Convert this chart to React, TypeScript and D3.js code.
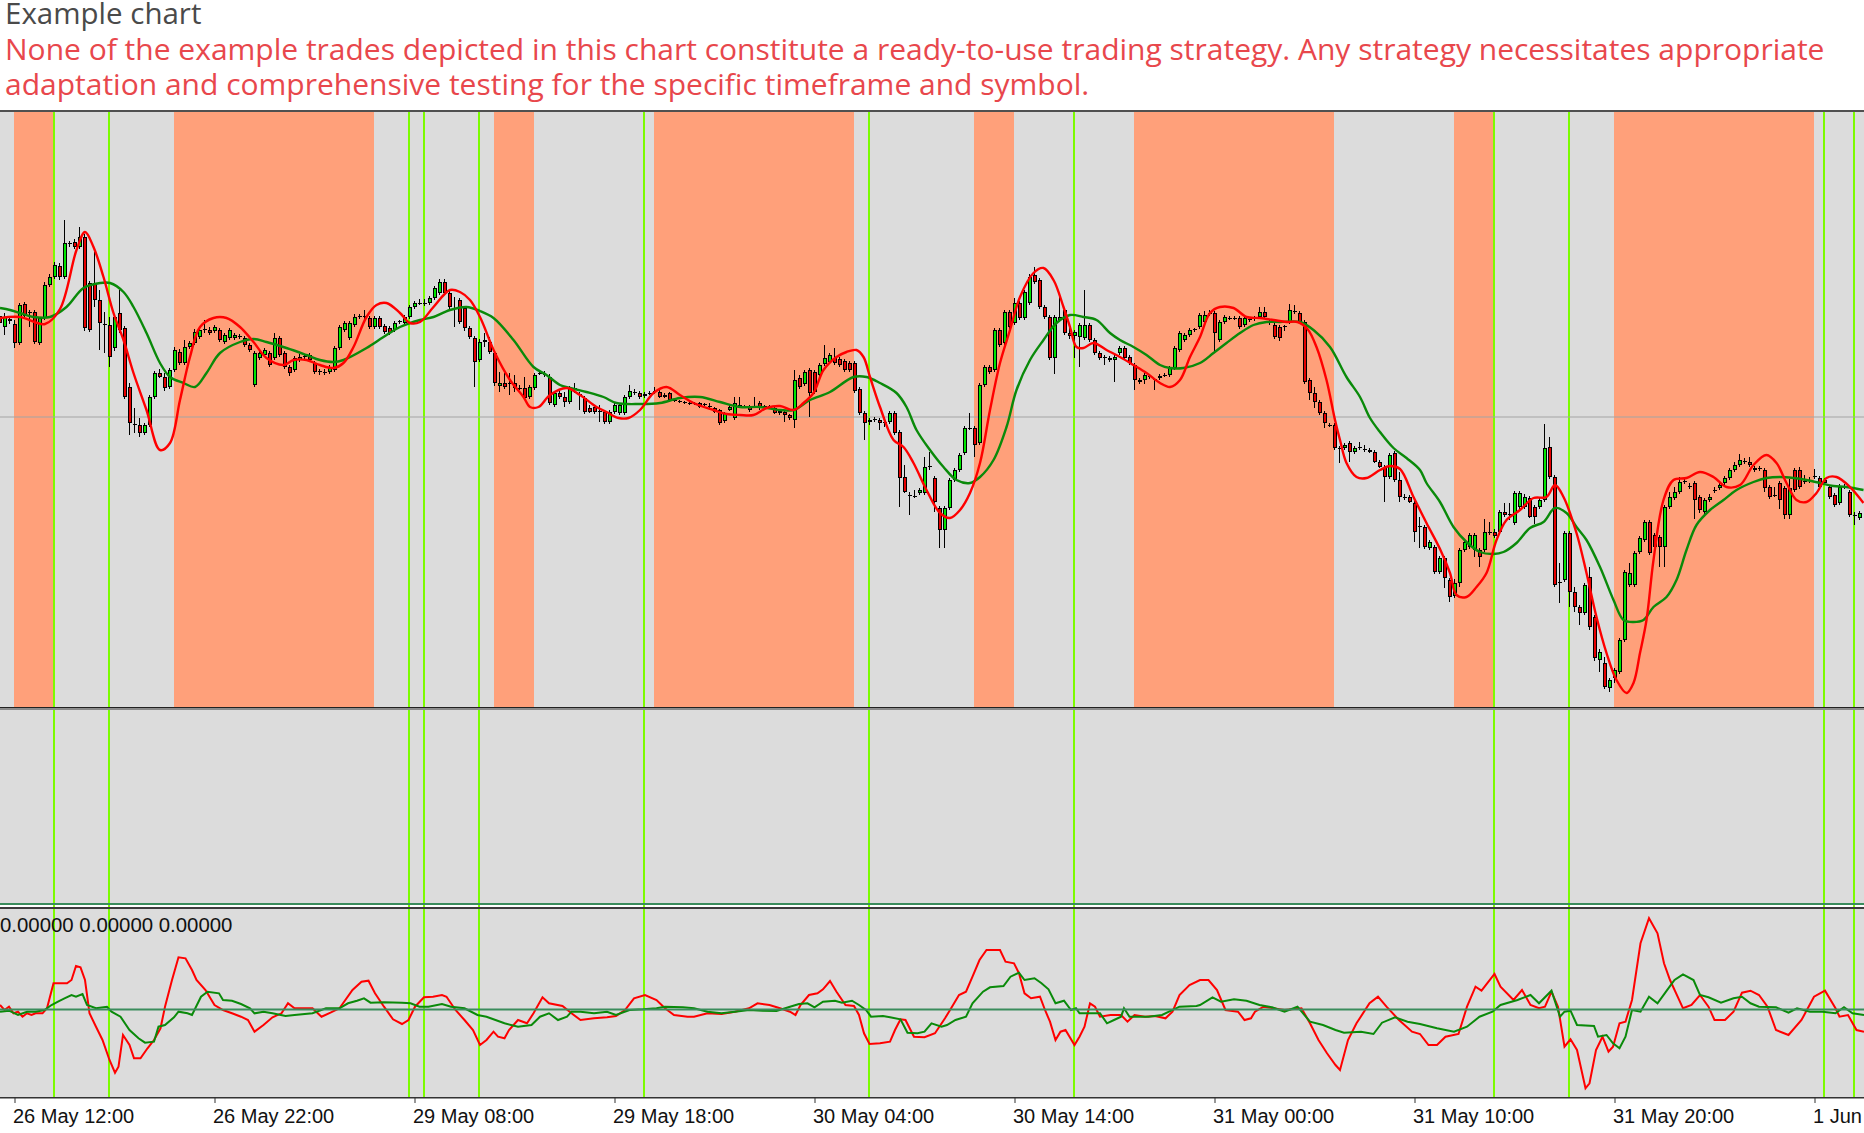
import React from 'react';
import * as d3 from 'd3';

// ---------- data ----------
const FIRST_BAR = -3; // bar index of first candle (bar 0 = 26 May 12:00, M15 bars)

// candles [open, high, low, close] in points
const MAY26 = [
  [101,104,90,94],[90,104,82,100],[98,101,93,96],[93,97,69,74],[74,114,72,112],[113,115,99,101],[105,107,90,104],[105,107,73,75],[74,100,72,99],[99,135,97,132],
  [132,143,130,140],[140,155,138,152],[151,154,137,140],[140,197,138,174],[173,176,170,174],[175,178,168,170],[170,190,168,180],[180,183,86,89],[134,136,85,87],[134,165,110,117],
  [117,127,67,94],[93,105,64,92],[92,100,50,60],[69,102,66,100],[104,127,84,87],[89,91,18,20],[30,34,-18,-6],[-7,9,-16,-8],[-8,-1,-20,-16],[-16,-6,-18,-8],
  [-8,22,-10,20],[20,46,18,44],[44,48,39,40],[40,44,26,29],[30,49,28,47],[47,70,45,67],[65,68,52,54],[54,77,52,70],[70,76,68,74],[74,88,72,85],
  [80,89,78,87],[87,97,84,88],[87,90,82,84],[86,92,84,90],[87,89,75,77],[75,84,73,82],[79,89,77,87],[79,84,77,82],[81,83,78,80],[79,81,70,72],
  [72,74,65,67]
];
const MAY29 = [
  [32,66,30,64],[59,66,57,64],[62,69,60,67],[64,66,50,52],[59,84,57,79],[79,81,60,62],[64,66,48,50],[50,52,41,44],[47,61,45,59],[57,63,55,60],
  [60,63,58,61],[62,64,55,57],[54,56,43,45],[45,48,42,46],[45,48,42,45],[45,52,43,50],[47,71,45,69],[69,92,67,90],[87,96,85,94],[79,96,77,94],
  [92,103,90,100],[100,103,98,101],[100,107,98,101],[99,101,88,90],[90,101,88,99],[99,101,88,90],[91,93,83,85],[89,91,82,84],[87,96,85,94],[95,97,93,96],
  [94,102,92,100],[100,112,98,110],[110,116,108,114],[114,118,112,113],[113,118,111,114],[114,121,112,119],[119,131,117,129],[124,138,122,135],[135,138,122,124],[124,126,108,110],
  [109,120,90,108],[117,119,93,95],[109,111,86,89],[89,91,78,80],[79,81,30,55],[57,78,55,75],[75,84,70,77],[75,80,63,65],[64,66,31,34],[31,45,25,34],
  [34,44,28,30],[33,44,22,34],[34,42,25,29],[29,32,27,28],[29,40,17,19],[20,32,18,30],[29,44,27,42],[43,47,42,44],[43,46,40,42],[40,43,12,14],
  [12,26,10,24],[24,26,18,20],[20,25,10,15],[15,31,13,29],[29,34,24,28],[23,25,7,22],[19,21,3,5],[9,12,4,5],[10,12,3,5],[6,12,-5,5],
  [5,7,-7,-5],[-5,7,-7,5],[5,14,3,12],[4,14,2,12],[4,22,2,20],[20,32,18,26],[24,28,22,25],[24,26,18,20],[21,25,19,23],[23,26,22,24],
  [25,30,23,26],[25,27,19,20],[20,24,19,22],[24,25,15,17],[17,18,15,16],[16,17,14,15],[15,16,13,14],[14,15,12,13],[13,15,12,14],[14,15,9,10],
  [12,14,11,13],[11,14,7,10],[9,10,4,5],[7,8,-8,-6],[-4,5,-6,4],[7,12,6,10]
];
const MAY30 = [
  [-1,20,-3,14],[12,20,9,11],[10,12,9,11],[10,12,5,7],[10,20,9,11],[14,16,7,9],[10,12,9,11],[11,12,9,10],[9,10,3,4],[4,7,2,6],
  [5,7,-5,2],[2,3,-3,-1],[-3,47,-11,37],[39,42,28,30],[33,47,31,45],[47,49,0,24],[45,47,23,25],[42,54,40,52],[53,72,51,59],[55,64,53,62],
  [59,69,52,54],[58,60,50,52],[56,58,45,47],[54,56,45,47],[54,56,24,26],[28,30,2,4],[4,6,-23,-6],[-5,-1,-8,-3],[-3,0,-5,-2],[-3,-1,-13,-6],
  [-5,0,-10,-6],[-5,6,-7,4],[4,6,-18,-16],[-15,-13,-90,-61],[-60,-48,-76,-75],[-78,-75,-98,-79],[-79,-73,-81,-80],[-76,-71,-78,-73],[-76,-40,-78,-50],[-50,-35,-53,-49],
  [-61,-59,-95,-85],[-91,-89,-131,-113],[-113,-89,-131,-91],[-91,-61,-93,-63],[-63,-51,-65,-53],[-53,-36,-55,-38],[-36,-9,-38,-11],[-11,4,-13,-12],[-11,-9,-40,-28],[-26,34,-28,32],
  [32,52,30,50],[50,52,43,45],[47,89,45,87],[87,89,70,72],[74,107,72,105],[105,107,88,90],[94,119,92,114],[114,116,97,99],[99,127,97,125],[114,143,112,140],
  [142,150,133,135],[137,139,108,110],[110,112,98,100],[100,102,57,59],[59,102,43,100],[97,120,95,100],[107,109,82,84],[84,89,78,81],[81,87,59,85],[80,94,50,92],
  [79,127,77,92],[92,94,75,77],[77,79,62,64],[64,66,57,59],[59,62,52,60],[59,61,55,57],[57,62,35,60],[64,71,62,69],[69,71,57,59],[60,62,52,54],
  [52,54,27,37],[37,39,33,35],[37,44,33,42],[41,43,38,40],[37,39,27,38],[39,43,37,41],[41,44,40,42],[42,51,40,49],[49,71,47,69],[67,86,65,84],
  [77,84,75,82],[82,89,80,87],[87,89,85,88],[90,104,88,102],[95,106,93,102],[103,107,101,104]
];
const MAY31 = [
  [104,106,64,84],[77,97,75,95],[95,102,93,100],[99,101,97,99],[99,101,97,98],[99,101,88,90],[92,101,90,99],[97,99,95,98],[98,101,96,99],[100,110,98,105],
  [105,110,98,100],[95,97,92,94],[92,94,78,80],[90,92,76,79],[90,92,86,91],[95,113,93,107],[105,112,103,106],[104,106,93,95],[95,97,33,35],[37,39,17,24],
  [24,30,9,15],[15,17,2,4],[4,6,-11,-6],[-8,-6,-10,-9],[-8,-6,-33,-31],[-31,-29,-46,-32],[-31,-26,-33,-28],[-26,-24,-45,-35],[-35,-29,-37,-31],[-31,-25,-33,-30],
  [-32,-28,-35,-33],[-33,-31,-36,-35],[-35,-33,-46,-45],[-45,-43,-51,-50],[-50,-48,-85,-60],[-60,-36,-62,-38],[-36,-34,-65,-63],[-63,-55,-85,-80],[-80,-77,-83,-80],[-80,-78,-86,-85],
  [-86,-84,-125,-115],[-110,-100,-131,-109],[-110,-108,-132,-130],[-131,-123,-133,-125],[-130,-128,-157,-155],[-155,-139,-157,-141],[-141,-139,-171,-161],[-163,-161,-185,-180],[-179,-162,-181,-166],[-166,-131,-170,-133],
  [-133,-122,-135,-125],[-130,-116,-132,-118],[-133,-116,-140,-118],[-133,-131,-150,-140],[-133,-102,-135,-115],[-116,-105,-118,-115],[-115,-112,-121,-119],[-115,-93,-117,-95],[-95,-86,-100,-98],[-98,-86,-103,-97],
  [-106,-74,-108,-76],[-90,-74,-92,-76],[-90,-77,-92,-80],[-81,-79,-101,-100],[-90,-88,-107,-100],[-90,-80,-92,-83],[-83,-7,-85,-31],[-30,-20,-62,-60],[-60,-58,-170,-168],[-166,-146,-186,-165],
  [-163,-114,-165,-116],[-116,-114,-190,-175],[-175,-170,-195,-190],[-190,-188,-208,-196],[-196,-166,-198,-168],[-160,-150,-213,-210],[-200,-198,-244,-241],[-243,-232,-255,-235],[-246,-240,-272,-270],[-271,-261,-275,-263],
  [-261,-251,-266,-253],[-255,-221,-257,-223],[-223,-153,-225,-155],[-168,-146,-170,-156],[-168,-134,-170,-136],[-135,-119,-137,-121],[-123,-103,-125,-105],[-105,-103,-138,-136],[-118,-116,-132,-130],[-120,-118,-150,-130],
  [-130,-88,-150,-90],[-90,-75,-92,-80],[-81,-70,-83,-75],[-75,-60,-77,-65],[-65,-60,-67,-64],[-69,-66,-72,-70]
];
const JUN01 = [
  [-66,-64,-102,-83],[-80,-78,-96,-93],[-95,-81,-97,-83],[-83,-77,-85,-80],[-74,-70,-76,-73],[-71,-66,-73,-68],[-66,-59,-68,-61],[-61,-51,-63,-53],[-53,-45,-55,-48],[-48,-37,-50,-43],
  [-44,-41,-47,-45],[-45,-40,-50,-48],[-51,-49,-55,-53],[-52,-49,-54,-51],[-53,-51,-75,-71],[-70,-68,-82,-80],[-78,-70,-80,-79],[-66,-64,-92,-83],[-71,-69,-102,-98],[-98,-62,-102,-71],
  [-53,-51,-75,-73],[-53,-50,-72,-70],[-64,-58,-67,-65],[-63,-60,-66,-63],[-60,-52,-62,-59],[-61,-59,-72,-70],[-63,-61,-68,-66],[-70,-68,-82,-80],[-78,-76,-90,-88],[-86,-67,-88,-70],
  [-70,-67,-72,-69],[-75,-73,-100,-98],[-98,-95,-108,-99],[-101,-94,-103,-96]
];
const CANDLES = [...MAY26, ...MAY29, ...MAY30, ...MAY31, ...JUN01];

// moving averages [bar, value]
const FAST_MA = [
  [-3,99],[1,100],[6,93],[9,108],[12.3,167],[14,185],[15.7,170],[17.7,140],[19.7,104],[21.7,77],[23.7,44],[26.3,7],[29,-33],[31,-26],[33,17],[35,60],[37,90],[39.7,99],[42.3,99],[45,90],
  [47.7,75],[50.3,59],[53.7,52],[55.7,57],[58.3,57],[61,52],[63.7,49],[65.7,54],[67.7,70],[70.3,100],[72.3,112],[74.3,114],[77,104],[79,94],[81,95],[83.7,110],[87,127],[89,125],[91,117],[93,100],
  [96,64],[99,37],[101.7,20],[103,10],[104.7,10],[107,22],[110.3,29],[113,22],[116.3,10],[118.3,5],[120.7,-1],[122.7,-1],[125,7],[127.7,24],[130.3,30],[133,22],[135.7,14],[139.7,7],[142.3,3],[145,2],
  [147.7,2],[150.3,9],[153,11],[155.7,7],[157.7,14],[159.7,24],[161.7,47],[164.3,60],[166.3,65],[168.3,67],[169.7,60],[171,40],[173,10],[175.7,-23],[177.7,-30],[179.7,-46],[182.3,-73],[185,-96],[187,-101],[189,-93],
  [191,-76],[193,-46],[195,7],[197,54],[199,87],[201,120],[203.7,144],[205.7,149],[207.7,137],[209.7,110],[211,90],[212.3,70],[213.7,69],[215.7,74],[218.3,67],[221,60],[223.7,52],[226.3,44],[229,34],[231,30],
  [233,37],[235,60],[237,80],[239,104],[241,110],[243.7,109],[246.3,100],[249,99],[251.7,97],[254.3,95],[256.5,95],[258.5,88],[260.3,70],[262.3,37],[264,-3],[265,-23],[266.3,-46],[268.3,-60],[270.3,-61],[273,-53],
  [275,-49],[277,-52],[279.7,-80],[282.3,-106],[285,-132],[287,-156],[288.3,-178],[290.3,-180],[292.3,-170],[294.3,-156],[296.3,-123],[298.3,-103],[301,-93],[303.7,-81],[306.3,-80],[308,-68],[309.7,-80],[312.3,-116],[314.3,-156],[316.3,-200],
  [318.3,-236],[320.3,-263],[322.3,-276],[323.7,-266],[325,-236],[326.3,-203],[327.7,-143],[329.7,-83],[331.7,-63],[334.3,-61],[337,-55],[339.7,-60],[342.3,-70],[345,-68],[347.7,-48],[350.3,-38],[352.3,-46],[354.3,-66],[356.3,-83],[358.3,-85],
  [360.3,-76],[362.3,-61],[364.3,-60],[367,-70],[369.7,-86]
];
const SLOW_MA = [
  [-3,109],[-1,107],[1,104],[3.7,100],[7,100],[10.3,110],[13.7,129],[17,134],[19,134],[21.7,125],[23.7,110],[26.3,84],[29,54],[31,40],[33.7,34],[36,30],[38.3,44],[41,64],[45,75],[47.7,78],
  [50.3,75],[54.3,69],[58.3,62],[61,57],[63.7,55],[65.7,57],[70.3,69],[73.7,80],[77,90],[81,97],[83.7,100],[87,107],[90.3,110],[93,106],[95.7,99],[99.7,77],[103.7,50],[106.3,42],[109,32],[111,29],
  [114.3,25],[117.7,20],[120.3,14],[125,13],[129,14],[133,19],[137,20],[141,15],[145,10],[149,10],[153,7],[155.7,7],[159,17],[163,25],[167.7,40],[170.3,40],[173,34],[176.3,24],[178.3,10],[180.3,-13],
  [183,-33],[185.7,-50],[188.3,-63],[191,-66],[193,-60],[195.7,-43],[198.3,-10],[200.3,27],[203,57],[205.7,77],[208.3,94],[211,102],[213.7,100],[216.3,97],[219,84],[221,77],[223.7,70],[226.3,62],[229,52],[231,49],
  [233.7,49],[237,54],[239.7,64],[242.3,74],[245,84],[247.7,92],[250.3,95],[253,95],[257,95],[259.7,87],[263,70],[266.3,40],[269,20],[271,-1],[273,-15],[275.7,-31],[278.3,-41],[281,-53],[282.3,-66],[285,-85],
  [287.7,-110],[290.3,-125],[293,-135],[295.7,-137],[297.7,-135],[300.3,-126],[303,-111],[305.7,-105],[308,-91],[310.3,-96],[312.3,-110],[314.3,-123],[317,-150],[319.7,-183],[321.7,-203],[323.7,-205],[325.7,-203],[327.7,-190],[330.3,-180],[332.3,-163],
  [334.3,-133],[336.3,-108],[339,-93],[341.7,-83],[344.3,-73],[347.7,-65],[350.3,-61],[353,-60],[355.7,-61],[358.3,-63],[361,-66],[363.7,-69],[366.3,-70],[369.7,-73]
];

// oscillator [bar, value]
const OSC_FAST = [
  [-3,4.5],[-2.1,-0.5],[-1.2,2.8],[-0.3,-3.8],[0.6,-2.2],[1.5,-7.2],[2.4,-3.8],[3.3,-5.5],[4.1,-3.8],[5.5,-3.8],[6.4,1.2],[7.7,26.2],[10.4,26.2],[11.3,29.5],[12.2,43.5],[13.1,42.2],[14,29.5],[14.9,-3.8],[16.2,-17.2],[17.5,-30.5],
  [18.9,-50.5],[20,-63.2],[20.7,-57.2],[21.6,-25.5],[22.9,-35.5],[23.8,-48.8],[25.1,-48.8],[26.5,-38.8],[27.8,-30.5],[29.1,-18.8],[30,2.8],[31.4,29.5],[32.7,52.2],[34.1,51.2],[35.4,39.5],[36.3,29.5],[38.1,19.5],[39.9,4.5],[41.6,-0.5],[43.4,-3.8],
  [45.2,-7.2],[46.6,-10.5],[47.9,-22.2],[49.7,-15.5],[51.5,-7.8],[53.3,-3.8],[54.6,6.2],[55.9,1.2],[59.5,1.2],[61.3,-7.2],[63.1,-3.2],[64.9,1.2],[67.5,19.5],[69.3,27.8],[70.7,28.8],[72,16.2],[73.8,2.8],[75.6,-9.8],[77.4,-14.5],[78.7,-10.5],
  [80,2.8],[81.8,12.2],[83.6,12.8],[85.4,14.5],[86.3,12.8],[88.1,-0.5],[89.9,-10.5],[91.6,-20.5],[93,-35.5],[94.3,-30.5],[95.7,-22.2],[96.6,-27.2],[97.9,-28.8],[98.8,-20.5],[100.6,-10.5],[102.4,-13.8],[103.7,-3.8],[105.5,12.2],[106.8,6.2],[109.5,3.5],
  [111.3,-3.8],[113.1,-10.5],[115.8,-8.8],[118.4,-7.8],[120.2,-6.5],[122,-0.5],[123.8,11.2],[126,14.5],[128.3,9.5],[130,1.2],[131.8,-5.5],[134.5,-7.2],[135.8,-7.2],[138.5,-3.8],[141.3,-4.5],[144,-2.2],[146.8,1.2],[148.5,6.2],[150.9,4.5],[153,1.2],
  [155,-2.2],[156.1,-5.5],[157.1,4.5],[158.8,14.5],[160.5,16.2],[161.6,20.2],[163,28.5],[164.3,17.8],[166.1,4.5],[167.8,3.5],[168.8,-5.5],[169.8,-23.8],[170.9,-34.5],[173,-33.8],[175,-32.2],[176,-20.5],[177.1,-9.8],[178.1,-10.5],[179.8,-27.2],[181.9,-27.8],
  [184,-23.8],[186,-8.8],[187.4,2.8],[188.8,14.5],[190.2,17.8],[191.5,32.8],[192.9,49.5],[194.3,59.5],[197,59.5],[198.1,47.8],[199.8,46.2],[200.8,36.2],[201.9,16.2],[203.2,11.2],[205,12.8],[206,-0.5],[207,-12.2],[208.1,-30.5],[209.1,-22.2],[210.1,-20.5],
  [211.9,-35.5],[212.9,-27.2],[213.9,-17.2],[215,6.2],[216,2.8],[217,-7.2],[219.1,-5.5],[221.2,-5.5],[222.5,-12.2],[223.9,-5.5],[226,-7.2],[228,-6.5],[230.1,-8.8],[231.5,-2.2],[232.9,14.5],[234.9,24.5],[237,29.5],[238.7,29.5],[240.4,19.5],[242.1,-0.5],
  [244.6,-2.2],[245.9,-10.5],[247.2,-8.8],[248,-2.2],[249.7,2.8],[253.9,-0.5],[257.3,1.2],[259,-13.8],[260.7,-30.5],[262.4,-43.8],[264.1,-55.5],[265,-60.5],[266.6,-30.5],[268.3,-13.8],[270.9,6.2],[272.6,12.8],[274.3,2.8],[276.8,-10.5],[279.4,-22.2],[281,-24.5],
  [282.7,-35.5],[284.4,-35.5],[286.1,-27.2],[288.7,-24.5],[290.4,2.8],[292.1,22.8],[293.3,18.8],[295.9,35.5],[297.1,22.8],[299.7,9.5],[301.4,19.5],[303.1,4.5],[304.8,1.2],[306,2.8],[307.3,17.8],[308.6,2.8],[309.9,-37.2],[311.1,-29.8],[312.4,-40.5],[314.1,-78.8],
  [314.9,-73.8],[316.2,-40.5],[317.5,-27.2],[318.7,-42.2],[319.6,-37.2],[320.9,-13.8],[322.1,-12.2],[323.4,9.5],[325.1,66.2],[326.8,91.2],[328.5,76.2],[329.8,46.2],[331,29.5],[333.6,1.2],[335.3,4.5],[337,14.5],[338.7,2.8],[339.9,-10.5],[342,-10.5],[343.7,-2.2],
  [345.4,16.8],[347.1,18.8],[348.8,14.5],[350.5,2.8],[352.2,-20.5],[354.7,-25.5],[357.3,-10.5],[359.8,12.8],[362,18.8],[364.1,1.2],[364.9,-7.2],[366.6,-5.5],[368.3,-20.5],[369.8,-22.2]
];
const OSC_SLOW = [
  [-3,-2.2],[-1.2,-1.2],[0.6,-5.5],[2.4,-2.2],[4.1,-2.2],[5.9,-0.5],[7.3,4.5],[8.6,7.8],[9.9,11.2],[11.3,14.5],[12.2,12.8],[13.5,15.5],[14.4,4.5],[16.2,1.2],[18.4,2.8],[19.3,-2.2],[21.1,-7.2],[22.9,-20.5],[24.7,-28.8],[26,-33.2],
  [27.8,-32.2],[28.7,-17.2],[30,-15.5],[31.8,-7.8],[32.7,-2.2],[34.5,-3.8],[35.4,-5.5],[37.2,12.8],[38.5,17.8],[40.8,16.2],[41.6,9.5],[43.4,8.8],[45.2,5.5],[47,1.2],[47.9,-3.8],[49.7,-2.2],[51.5,-3.8],[54.1,-6.5],[55.9,-5.5],[59.5,-3.8],
  [62.2,1.2],[64.9,1.2],[66.6,6.2],[68.4,8.8],[69.8,11.2],[71.1,6.8],[73.8,7.2],[77.4,6.8],[79.1,6.2],[80.9,2.8],[82.7,2.8],[85.4,5.5],[87.2,2.8],[89.9,1.2],[92.5,-5.5],[94.3,-7.2],[96.1,-10.5],[97.9,-13.8],[100.6,-17.2],[103.3,-15.5],
  [105,-7.2],[106.8,-3.8],[108.6,-10.5],[110.4,-7.2],[111.3,-2.2],[113.1,-2.2],[115.8,-3.8],[118.4,-2.2],[120.2,-5.5],[122.9,-0.5],[125.6,0.2],[128.3,1.2],[130,2.8],[133.6,2.2],[135.8,1.2],[138.5,-2.2],[141.3,-3.8],[144,-2.2],[146.8,-0.5],[149.5,-1.2],
  [152.3,-1.5],[155,2.8],[156.8,5.5],[158.5,6.2],[159.9,2.2],[161.6,7.8],[164,8.8],[165.4,6.8],[167.4,8.8],[168.8,4.5],[170.2,-0.5],[171.2,-7.2],[173.6,-6.5],[175,-7.8],[177.1,-9.8],[178.5,-23.2],[180.5,-23.8],[181.9,-22.2],[183.3,-13.8],[185.3,-17.2],
  [186.4,-15.5],[188.1,-10.5],[190.2,-7.2],[191.5,6.2],[193.6,17.8],[195,22.2],[197.7,23.5],[199.1,32.8],[200.8,36.8],[201.9,29.5],[203.9,31.2],[205.3,26.2],[206.7,20.2],[208.1,6.2],[209.8,8.8],[211.2,-0.5],[212.2,1.2],[212.9,-3.8],[215,-3.8],[217,-3.8],
  [218.4,-13.8],[219.8,-10.5],[221.2,-7.2],[221.8,1.2],[222.9,-7.2],[224.6,-7.2],[226.7,-7.2],[229.4,-5.5],[230.8,-2.2],[232.9,2.8],[236.3,3.5],[237,4.5],[239.5,12.2],[241.2,7.8],[243.8,10.2],[246.3,8.8],[248.9,4.5],[251.4,2.2],[253.9,-2.2],[256.5,2.8],
  [259,-12.2],[261.6,-15.5],[264.1,-20.5],[265.8,-23.2],[269.2,-22.2],[271.7,-24.5],[273.4,-13.2],[276,-7.8],[278.5,-12.2],[281,-14.5],[284.4,-18.8],[287.8,-22.2],[290.4,-17.2],[292.9,-7.2],[295.5,-2.2],[297.1,4.5],[300.5,9.5],[303.1,14.5],[304.8,6.2],[307.3,18.8],
  [309,-7.2],[309.9,-2.2],[311.1,-1.2],[312.4,-15.5],[315.8,-16.5],[316.6,-27.2],[318.3,-25.5],[319.6,-33.8],[320.9,-38.8],[322.1,-27.2],[323.4,-0.5],[325.1,-2.2],[326.8,12.8],[328.5,6.2],[330.2,17.8],[331.9,29.5],[333.6,35.2],[335.7,29.5],[337,14.5],[338.7,12.2],
  [341.2,6.8],[343.7,11.2],[345.4,12.8],[347.1,6.2],[348.8,2.8],[352.2,2.2],[354.7,-3.2],[356.4,1.2],[359,-2.2],[361.5,-2.2],[364.1,-3.8],[365.8,2.2],[367.5,-3.8],[369.8,-5.5]
];

// session bands [startBar, endBar]
const BANDS = [[0,8],[32,72],[96,104],[128,168],[192,200],[224,264],[288,296],[320,360]];
// vertical marker lines (bar index)
const VLINES = [8,19,79,82,93,126,171,212,296,311,362,368];
// time axis
const TICK_BARS = [0,40,80,120,160,200,240,280,320,360];
const TICK_LABELS = ['26 May 12:00','26 May 22:00','29 May 08:00','29 May 18:00','30 May 04:00','30 May 14:00','31 May 00:00','31 May 10:00','31 May 20:00','1 Jun 06:00'];
const PRICE_LEVEL = 0;
const OSC_LEVEL = 0;

const TITLE = 'Example chart';
const NOTE_1 = 'None of the example trades depicted in this chart constitute a ready-to-use trading strategy. Any strategy necessitates appropriate';
const NOTE_2 = 'adaptation and comprehensive testing for the specific timeframe and symbol.';
const OSC_LABEL = '0.00000 0.00000 0.00000';

// ---------- layout ----------
const W = 1864, H = 1133;
const MAIN_TOP = 112, MAIN_BOT = 707;
const MID_TOP = 710, MID_BOT = 903;
const LOW_TOP = 909, LOW_BOT = 1097;
const BG = '#dcdcdc';
const SALMON = '#ffa07a';
const LAWN = '#7cfc00';
const SEA = '#3a8c5c';

export default function App() {
  const x = d3.scaleLinear().domain([0, 1]).range([15, 20]);
  const yP = d3.scaleLinear().domain([-290, 305]).range([MAIN_BOT, MAIN_TOP]);
  const yO = d3.scaleLinear().domain([-87.5, 100.5]).range([LOW_BOT, LOW_TOP]);

  const maLine = d3.line<number[]>().x(d => x(d[0])).y(d => yP(d[1])).curve(d3.curveCatmullRom.alpha(0.5));
  const oscLine = d3.line<number[]>().x(d => x(d[0])).y(d => yO(d[1])).curve(d3.curveLinear);

  const vlines = (top: number, bot: number, key: string) =>
    VLINES.map((b, i) => (
      <rect key={key + i} x={Math.round(x(b)) - 2} y={top} width={2} height={bot - top} fill={LAWN} />
    ));

  return (
    <div style={{ position: 'absolute', left: 0, top: 0, width: W, height: H, overflow: 'hidden', background: '#fff' }}>
      <svg width={W} height={H} style={{ display: 'block' }}>
        <defs>
          <clipPath id="mainClip"><rect x={0} y={MAIN_TOP} width={W} height={MAIN_BOT - MAIN_TOP} /></clipPath>
          <clipPath id="lowClip"><rect x={0} y={LOW_TOP} width={W} height={LOW_BOT - LOW_TOP} /></clipPath>
        </defs>
        <rect x={0} y={0} width={W} height={H} fill="#fff" />

        {/* header */}
        <text x={5} y={24} fontFamily="'Open Sans'" fontSize={29.5} fill="#4a4a4a">{TITLE}</text>
        <text x={5} y={59.5} fontFamily="'Open Sans'" fontSize={30} fill="#e8474c">{NOTE_1}</text>
        <text x={5} y={94.5} fontFamily="'Open Sans'" fontSize={30} fill="#e8474c">{NOTE_2}</text>

        {/* main panel */}
        <rect x={0} y={110} width={W} height={2} fill="#505050" />
        <rect x={0} y={MAIN_TOP} width={W} height={MAIN_BOT - MAIN_TOP} fill={BG} />
        <g clipPath="url(#mainClip)">
          {BANDS.map((b, i) => (
            <rect key={'b' + i} x={Math.round(x(b[0])) - 1} y={MAIN_TOP} width={x(b[1]) - x(b[0])} height={MAIN_BOT - MAIN_TOP} fill={SALMON} />
          ))}
          {vlines(MAIN_TOP, MAIN_BOT, 'vm')}
          <rect x={0} y={Math.round(yP(PRICE_LEVEL)) - 0.5} width={W} height={1} fill="#a4a4a4" />
          <g shapeRendering="crispEdges">
            {CANDLES.map((c, i) => {
              const bar = FIRST_BAR + i;
              const cx = Math.round(x(bar));
              const [o, h, l, cl] = c;
              const top = Math.round(yP(Math.max(o, cl)));
              const bot = Math.round(yP(Math.min(o, cl)));
              const up = cl >= o;
              const bh = Math.max(1, bot - top);
              return (
                <g key={'c' + i}>
                  <rect x={cx - 1} y={Math.round(yP(h))} width={1} height={Math.max(1, Math.round(yP(l)) - Math.round(yP(h)))} fill="#000" />
                  <rect x={cx - 2} y={top} width={4} height={bh} fill="#000" />
                  {bh > 2 && <rect x={cx - 1} y={top + 1} width={2} height={bh - 2} fill={up ? '#00e600' : '#e60000'} />}
                </g>
              );
            })}
          </g>
          <path d={maLine(SLOW_MA) || ''} fill="none" stroke="#0a8a0a" strokeWidth={2.4} />
          <path d={maLine(FAST_MA) || ''} fill="none" stroke="#ff0000" strokeWidth={2.4} />
        </g>
        <rect x={0} y={MAIN_BOT} width={W} height={1.5} fill="#222" />
        <rect x={0} y={MAIN_BOT + 1.5} width={W} height={2} fill="#8a8a8a" />

        {/* middle panel */}
        <rect x={0} y={MID_TOP} width={W} height={MID_BOT - MID_TOP} fill={BG} />
        {vlines(MID_TOP, LOW_TOP - 2, 'vmid')}
        <rect x={0} y={MID_BOT} width={W} height={2} fill={SEA} />
        <rect x={0} y={LOW_TOP - 2} width={W} height={2} fill="#3c3c3c" />

        {/* lower panel */}
        <rect x={0} y={LOW_TOP} width={W} height={LOW_BOT - LOW_TOP} fill={BG} />
        {vlines(LOW_TOP, LOW_BOT, 'vl')}
        <g clipPath="url(#lowClip)">
          <path d={oscLine(OSC_FAST) || ''} fill="none" stroke="#ff0000" strokeWidth={2} />
          <path d={oscLine(OSC_SLOW) || ''} fill="none" stroke="#0a8a0a" strokeWidth={2} />
          <rect x={0} y={yO(OSC_LEVEL) - 1} width={W} height={2} fill={SEA} />
        </g>
        <text x={0} y={932} fontFamily="'Liberation Sans', Arial, sans-serif" fontSize={20.4} fill="#111">{OSC_LABEL}</text>

        {/* time axis */}
        <rect x={0} y={LOW_BOT} width={W} height={1.5} fill="#333" />
        {TICK_BARS.map((b, i) => (
          <g key={'t' + i}>
            <rect x={Math.round(x(b)) - 0.5} y={LOW_BOT} width={1} height={6} fill="#333" />
            <text x={x(b) - 2} y={1123} fontFamily="'Liberation Sans', Arial, sans-serif" fontSize={20} fill="#111">{TICK_LABELS[i]}</text>
          </g>
        ))}
      </svg>
    </div>
  );
}
